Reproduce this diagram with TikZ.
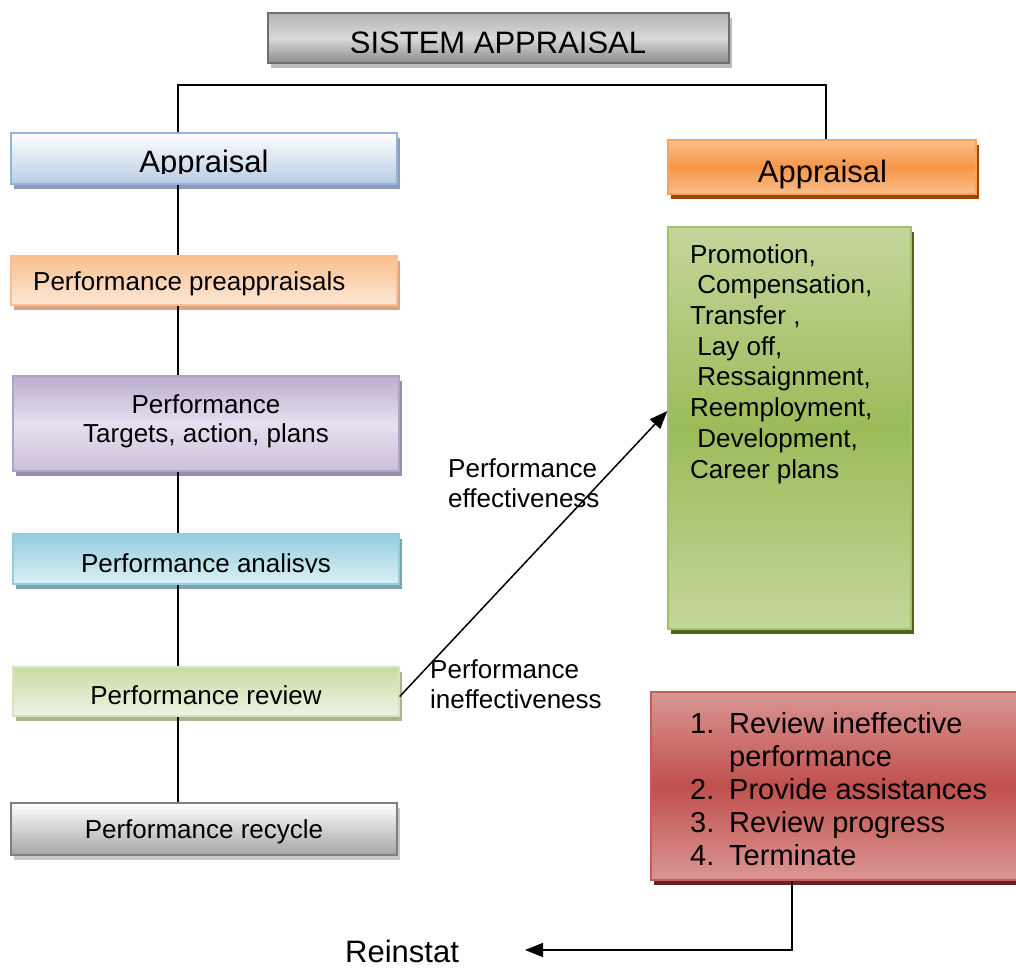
\documentclass[tikz,border=0pt]{standalone}
\usepackage{fontspec}
\setmainfont{Liberation Sans}
\usetikzlibrary{shadows,arrows.meta,calc}

% box fills, borders and shadows
\definecolor{grTop}{HTML}{B4B4B4}\definecolor{grMid}{HTML}{D8D8D8}\definecolor{grBot}{HTML}{8C8C8C}
\definecolor{grLine}{HTML}{6E6E6E}\definecolor{grShd}{HTML}{BDBDBD}
\definecolor{blBot}{HTML}{B8CCE4}\definecolor{blLine}{HTML}{95B3D7}\definecolor{blShd}{HTML}{8C9FBA}
\definecolor{orA}{HTML}{FBBE8D}\definecolor{orB}{HTML}{F79646}\definecolor{orLine}{HTML}{F9A25A}\definecolor{orShd}{HTML}{984807}
\definecolor{peTop}{HTML}{F9BF8F}\definecolor{peBot}{HTML}{FDE8D7}\definecolor{peLine}{HTML}{FAC090}\definecolor{peShd}{HTML}{D4A78A}
\definecolor{puTop}{HTML}{BBADCF}\definecolor{puMid}{HTML}{E6E0EE}\definecolor{puBot}{HTML}{CBC0DA}\definecolor{puLine}{HTML}{B3A2C7}\definecolor{puShd}{HTML}{9A8CAB}
\definecolor{cyTop}{HTML}{93CDDD}\definecolor{cyBot}{HTML}{DCF0F5}\definecolor{cyLine}{HTML}{92CDDC}\definecolor{cyShd}{HTML}{7BA4AE}
\definecolor{lgTop}{HTML}{C8DBA3}\definecolor{lgBot}{HTML}{EEF4E3}\definecolor{lgLine}{HTML}{D7E4BD}\definecolor{lgShd}{HTML}{A9B592}
\definecolor{rcBot}{HTML}{A5A5A5}\definecolor{rcLine}{HTML}{7F7F7F}\definecolor{rcShd}{HTML}{C8C8C8}
\definecolor{gnA}{HTML}{C3D69B}\definecolor{gnB}{HTML}{9BBB59}\definecolor{gnLine}{HTML}{A3C16A}\definecolor{gnShd}{HTML}{4F6228}
\definecolor{rdA}{HTML}{DA9694}\definecolor{rdB}{HTML}{C0504D}\definecolor{rdLine}{HTML}{C75C59}\definecolor{rdShd}{HTML}{632523}

\begin{document}
\begin{tikzpicture}[x=1pt,y=-1pt,
  box/.style={rectangle, draw, line width=1.4pt, inner sep=0pt},
  shd/.style={drop shadow={shadow xshift=3pt, shadow yshift=-5pt, fill=#1, opacity=1}},
  conn/.style={line width=1.5pt, black},
  tip/.style={-{Triangle[length=18pt,width=14pt]}},
  txt/.style={inner sep=0pt, font=\fontsize{26}{30}\selectfont},
  big/.style={inner sep=0pt, font=\fontsize{31}{36}\selectfont},
]
\useasboundingbox (0,0) rectangle (1016,967);

% ---- boxes ----
\node[box, shd=grShd, draw=grLine, top color=grTop, bottom color=grBot, middle color=grMid,
      minimum width=461pt, minimum height=50pt] (bTop) at (498.5,38) {};
\node[box, shd=blShd, draw=blLine, top color=white, bottom color=blBot,
      minimum width=386pt, minimum height=51pt] (bApL) at (204,158.5) {};
\node[box, shd=orShd, draw=orLine, top color=orA, bottom color=orA, middle color=orB,
      minimum width=308pt, minimum height=54pt] (bApR) at (822,167) {};
\node[box, shd=peShd, draw=peLine, top color=peTop, bottom color=peBot,
      minimum width=386pt, minimum height=49pt] (bPre) at (204,280.5) {};
\node[box, shd=puShd, draw=puLine, top color=puTop, bottom color=puBot, middle color=puMid,
      minimum width=386pt, minimum height=95pt] (bTar) at (206,423.5) {};
\node[box, shd=cyShd, draw=cyLine, top color=cyTop, bottom color=cyBot,
      minimum width=386pt, minimum height=50pt] (bAna) at (206,559) {};
\node[box, shd=lgShd, draw=lgLine, top color=lgTop, bottom color=lgBot,
      minimum width=386pt, minimum height=49pt] (bRev) at (206,691.5) {};
\node[box, shd=rcShd, draw=rcLine, top color=white, bottom color=rcBot,
      minimum width=386pt, minimum height=52pt] (bRec) at (204,829) {};
\node[box, shd=gnShd, draw=gnLine, top color=gnA, bottom color=gnA, middle color=gnB,
      minimum width=243pt, minimum height=402pt] (bGreen) at (789.5,428) {};
\node[box, shd=rdShd, draw=rdLine, top color=rdA, bottom color=rdA, middle color=rdB,
      minimum width=380pt, minimum height=188pt] (bRed) at (841,786) {};

% ---- texts (multi-line nodes are placed by their last baseline) ----
\begin{scope}
  \clip (268,13) rectangle (729,52);
  \node[big, anchor=base] (tTop) at (498,53) {SISTEM APPRAISAL};
\end{scope}
\begin{scope}
  \clip (11,133) rectangle (397,173);
  \node[big, anchor=base] (tApL) at (204,172.5) {Appraisal};
\end{scope}
\node[big, anchor=base] (tApR) at (822.5,182) {Appraisal};
\node[txt, anchor=base west] (tPre) at (33,290) {Performance preappraisals};
\node[txt, anchor=base, align=center, font=\fontsize{26}{29.5}\selectfont] (tTar) at (206,442.5)
  {Performance\\Targets, action, plans};
\begin{scope}
  \clip (13,534) rectangle (399,572.5);
  \node[txt, anchor=base] (tAna) at (206,572) {Performance analisys};
\end{scope}
\node[txt, anchor=base] (tRev) at (206,704) {Performance review};
\node[txt, anchor=base] (tRec) at (204,838) {Performance recycle};
\node[txt, anchor=base west, align=left, font=\fontsize{26}{30.7}\selectfont] (tGreen) at (690,478)
  {Promotion,\\\ Compensation,\\Transfer ,\\\ Lay off,\\\ Ressaignment,\\Reemployment,\\\ Development,\\Career plans};
\node[txt, anchor=base west, align=left, font=\fontsize{29}{33}\selectfont] (tRed) at (690,865)
  {\makebox[39pt][l]{1.}Review ineffective\\\makebox[39pt][l]{}performance\\
   \makebox[39pt][l]{2.}Provide assistances\\\makebox[39pt][l]{3.}Review progress\\
   \makebox[39pt][l]{4.}Terminate};
\node[txt, anchor=base west, align=left] (tEff) at (448,507) {Performance\\effectiveness};
\node[txt, anchor=base west, align=left] (tIneff) at (430,708) {Performance\\ineffectiveness};
\node[big, anchor=base west] (tRein) at (345,962) {Reinstat};

% ---- connectors ----
\coordinate (sp) at (178,0);
\coordinate (rx) at (826,0);
\coordinate (bar) at (500,85);
\coordinate (rdx) at (792,0);
\coordinate (reinEnd) at (525,950);

\draw[conn] (bApL.north -| sp) |- (bar) -| (bApR.north -| rx);
\draw[conn] (bApL.south -| sp) -- (bPre.north -| sp);
\draw[conn] (bPre.south -| sp) -- (bTar.north -| sp);
\draw[conn] (bTar.south -| sp) -- (bAna.north -| sp);
\draw[conn] (bAna.south -| sp) -- (bRev.north -| sp);
\draw[conn] (bRev.south -| sp) -- (bRec.north -| sp);
\draw[conn, tip] ([yshift=-5pt]bRev.east) -- ([yshift=17pt]bGreen.west);
\draw[conn, tip] (bRed.south -| rdx) |- (reinEnd);
\end{tikzpicture}
\end{document}
